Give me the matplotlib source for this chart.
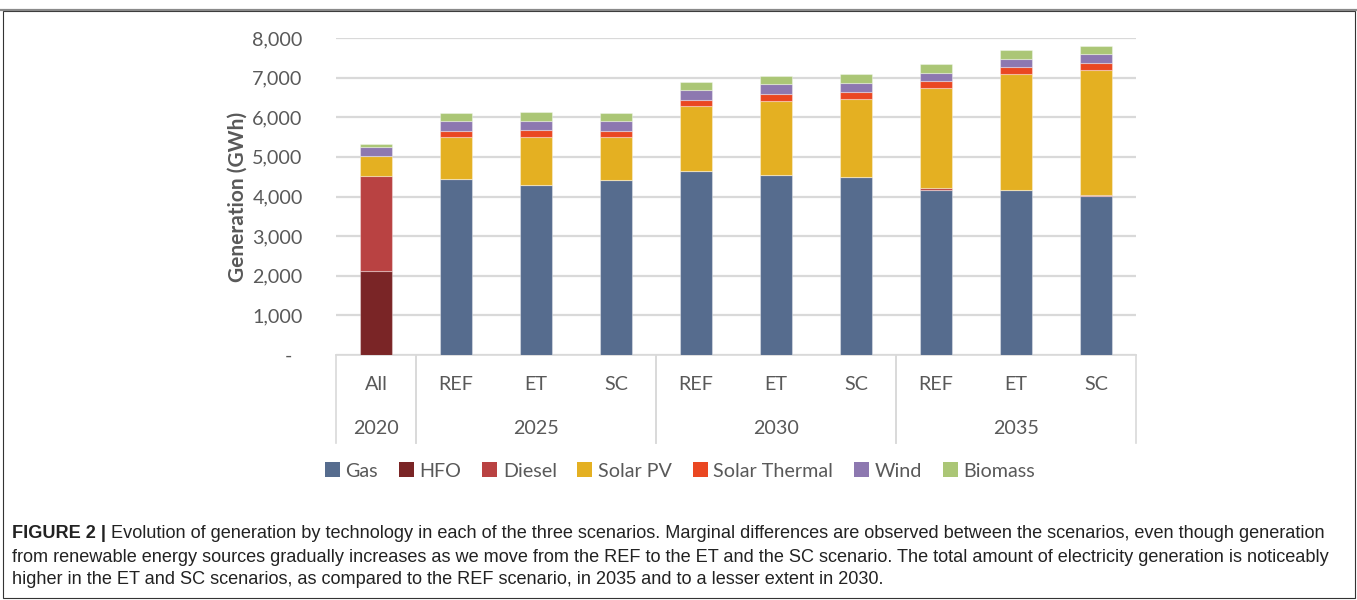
import matplotlib.pyplot as plt
from matplotlib.patches import Patch, Rectangle
from matplotlib.lines import Line2D
from matplotlib.ticker import FuncFormatter
import matplotlib.transforms as mtransforms

# x categories (two-level axis)
scenarios = ["All", "REF", "ET", "SC", "REF", "ET", "SC", "REF", "ET", "SC"]
years = ["2020", "2025", "2030", "2035"]
year_spans = [(0, 1), (1, 4), (4, 7), (7, 10)]

# generation by technology (GWh)
gas = [0, 4449, 4297, 4415, 4651, 4532, 4482, 4154, 4171, 4003]
hfo = [2110, 0, 0, 0, 0, 0, 0, 0, 0, 0]
diesel = [2414, 0, 0, 0, 0, 0, 0, 50, 0, 30]
solar_pv = [505, 1042, 1211, 1093, 1632, 1885, 1985, 2524, 2910, 3159]
solar_thermal = [0, 169, 169, 152, 159, 169, 160, 177, 177, 167]
wind = [210, 244, 235, 244, 235, 243, 244, 219, 219, 237]
biomass = [93, 210, 210, 210, 219, 219, 219, 209, 209, 209]

series = [("Gas", gas, "#566C8E"),
          ("HFO", hfo, "#7A2526"),
          ("Diesel", diesel, "#B94242"),
          ("Solar PV", solar_pv, "#E4B022"),
          ("Solar Thermal", solar_thermal, "#EA4722"),
          ("Wind", wind, "#8D78B0"),
          ("Biomass", biomass, "#ABC676")]

caption_bold = "FIGURE 2 |"
caption_lines = [
    " Evolution of generation by technology in each of the three scenarios. Marginal differences are observed between the scenarios, even though generation",
    "from renewable energy sources gradually increases as we move from the REF to the ET and the SC scenario. The total amount of electricity generation is noticeably",
    "higher in the ET and SC scenarios, as compared to the REF scenario, in 2035 and to a lesser extent in 2030.",
]

plt.rcParams['font.family'] = ['Lato', 'DejaVu Sans']
txt = "#595959"

fig = plt.figure(figsize=(13.57, 6.0), dpi=100)
ax = fig.add_axes([336 / 1357, 1 - 355 / 600, 800 / 1357, 317 / 600])

x = list(range(len(scenarios)))
bottom = [0] * len(x)
for name, vals, col in series:
    ax.bar(x, vals, width=0.4, bottom=bottom, color=col,
           edgecolor=(1, 1, 1, 0.35), linewidth=0.8, zorder=3)
    bottom = [b + v for b, v in zip(bottom, vals)]

ax.set_xlim(-0.5, len(x) - 0.5)
ax.set_ylim(0, 8000)
ax.set_yticks(range(0, 8001, 1000))
ax.yaxis.set_major_formatter(FuncFormatter(lambda v, p: "-  " if v == 0 else f"{v:,.0f}"))
ax.tick_params(axis='y', length=0, pad=24, labelsize=14.2, labelcolor=txt)
ax.set_xticks([])
ax.grid(axis='y', color="#D9D9D9", linewidth=1.6, zorder=0)
for s in ["top", "right", "left"]:
    ax.spines[s].set_visible(False)
ax.spines["bottom"].set_color("#D9D9D9")
ax.spines["bottom"].set_linewidth(1.2)
ax.set_ylabel("Generation (GWh)", fontsize=15, fontweight='bold', color=txt, labelpad=3)

# two-level category axis
tr = mtransforms.blended_transform_factory(ax.transData, ax.transAxes)
for i, lab in enumerate(scenarios):
    ax.text(i, -0.092, lab, transform=tr, ha='center', va='center', fontsize=14.2, color=txt)
for (a, b), yr in zip(year_spans, years):
    ax.text((a + b - 1) / 2, -0.231, yr, transform=tr, ha='center', va='center', fontsize=14.2, color=txt)
for a, b in year_spans:
    for edge in (a - 0.5, b - 0.5):
        ax.add_line(Line2D([edge, edge], [0, -0.278], transform=tr, color="#D9D9D9",
                           linewidth=1.2, clip_on=False))

handles = [Patch(facecolor=c, label=n) for n, v, c in series]
fig.legend(handles=handles, loc='center', bbox_to_anchor=(680 / 1357, 1 - 471 / 600), ncol=7,
           frameon=False, fontsize=14.2, handlelength=0.75, handleheight=0.75,
           handletextpad=0.3, columnspacing=1.05, labelcolor=txt)

# figure frame
fig.add_artist(Rectangle((3 / 1357, 2 / 600), 1352 / 1357, 587 / 600, transform=fig.transFigure,
                         fill=False, edgecolor="#333333", linewidth=0.8))
fig.add_artist(Line2D([0, 1], [1 - 9.5 / 600] * 2, transform=fig.transFigure,
                      color="#8A8A8A", linewidth=1.6))

# caption, font size fitted so the first line spans like the original
cap_font = ['Liberation Sans', 'DejaVu Sans']
cap_col = "#222222"
ys = [533, 557, 580]
left, right = 12, 1334
fs = 12.0
renderer = fig.canvas.get_renderer()
probe = fig.text(0, 0, caption_bold + caption_lines[0], family=cap_font, fontsize=fs)
w = probe.get_window_extent(renderer).width
probe.remove()
fs = fs * (right - left) / w

t = fig.text(left / 1357, 1 - ys[0] / 600, caption_bold, family=cap_font, fontweight='bold',
             fontsize=fs, va='center', ha='left', color=cap_col)
bb = t.get_window_extent(renderer)
fig.text(bb.x1 / 1357, 1 - ys[0] / 600, caption_lines[0], family=cap_font,
         fontsize=fs, va='center', ha='left', color=cap_col)
for yy, line in zip(ys[1:], caption_lines[1:]):
    fig.text(left / 1357, 1 - yy / 600, line, family=cap_font, fontsize=fs,
             va='center', ha='left', color=cap_col)

fig.savefig("out.png", dpi=100)
